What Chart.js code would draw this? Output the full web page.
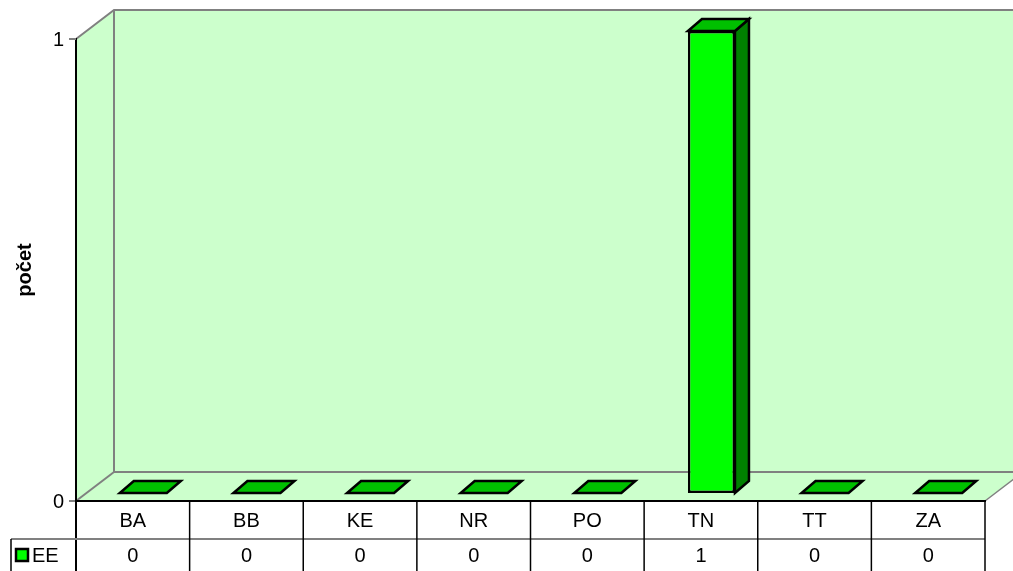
<!DOCTYPE html>
<html>
<head>
<meta charset="utf-8">
<title>počet</title>
<script src="https://cdn.jsdelivr.net/npm/chart.js@4"></script>
<style>
  html, body { margin: 0; padding: 0; background: #fff; }
  canvas { display: block; }
</style>
</head>
<body>
<canvas id="chart" width="1013" height="571"></canvas>
<script>
// ---- Data ----
const categories = ['BA', 'BB', 'KE', 'NR', 'PO', 'TN', 'TT', 'ZA'];
const seriesName = 'EE';
const seriesValues = [0, 0, 0, 0, 0, 1, 0, 0];
const yTicks = [0, 1];
const yTitle = 'počet';

// ---- Look ----
const FONT = '"Liberation Sans", Arial, sans-serif';
const WALL = '#ccffcc';
const GRID = '#808080';
const FRONT = { dx: -10.5, dy: 8 };   // front plane relative to bar plane
const BACK = { dx: 27.5, dy: -21 };   // back wall relative to bar plane
const BAR_DEPTH = { dx: 14, dy: -12 };

function line(ctx, pts, color, w) {
  ctx.beginPath();
  ctx.moveTo(pts[0][0], pts[0][1]);
  for (let i = 1; i < pts.length; i++) ctx.lineTo(pts[i][0], pts[i][1]);
  ctx.strokeStyle = color; ctx.lineWidth = w;
  ctx.stroke();
}
function poly(ctx, pts, fill, stroke, w) {
  ctx.beginPath();
  ctx.moveTo(pts[0][0], pts[0][1]);
  for (let i = 1; i < pts.length; i++) ctx.lineTo(pts[i][0], pts[i][1]);
  ctx.closePath();
  ctx.fillStyle = fill; ctx.fill();
  if (stroke) { ctx.strokeStyle = stroke; ctx.lineWidth = w; ctx.lineJoin = 'miter'; ctx.stroke(); }
}

// ---- 3D walls, bar faces, data table ----
const excel3d = {
  id: 'excel3d',
  beforeDatasetsDraw(chart) {
    const { ctx, chartArea: a, scales: { y } } = chart;
    const top = y.getPixelForValue(yTicks[yTicks.length - 1]);
    const bot = y.getPixelForValue(yTicks[0]);
    const fl = a.left + FRONT.dx, fr = a.right + FRONT.dx;
    const ft = top + FRONT.dy, fb = bot + FRONT.dy;
    const bl = a.left + BACK.dx, br = a.right + BACK.dx;
    const bt = top + BACK.dy, bb = bot + BACK.dy;
    ctx.save();
    // side wall, back wall, floor
    poly(ctx, [[fl, ft], [bl, bt], [bl, bb], [fl, fb]], WALL);
    poly(ctx, [[bl, bt], [br, bt], [br, bb], [bl, bb]], WALL);
    poly(ctx, [[fl, fb], [bl, bb], [br, bb], [fr, fb]], WALL);
    line(ctx, [[fl, ft], [bl, bt], [br, bt]], GRID, 2);
    line(ctx, [[bl, bt], [bl, bb], [br, bb]], GRID, 2);
    line(ctx, [[fl, fb], [bl, bb]], GRID, 2);
    line(ctx, [[fr, fb], [br, bb]], GRID, 1.5);
    // value axis + ticks
    line(ctx, [[fl, ft - 1], [fl, chart.height]], '#000', 2);
    ctx.font = '20px ' + FONT;
    ctx.textAlign = 'right'; ctx.textBaseline = 'middle';
    yTicks.forEach(t => {
      const ty = y.getPixelForValue(t) + FRONT.dy;
      line(ctx, [[fl - 7, ty], [fl, ty]], GRID, 2);
      ctx.fillStyle = '#000';
      ctx.fillText(String(t), fl - 12, ty + 1);
    });
    // axis title
    ctx.save();
    ctx.translate(25, (ft + fb) / 2);
    ctx.rotate(-Math.PI / 2);
    ctx.font = 'bold 20px ' + FONT;
    ctx.textAlign = 'center';
    ctx.fillStyle = '#000';
    ctx.fillText(yTitle, 0, 0);
    ctx.restore();
    ctx.restore();
  },
  afterDatasetsDraw(chart) {
    const { ctx } = chart;
    const meta = chart.getDatasetMeta(0);
    ctx.save();
    meta.data.forEach(bar => {
      const { x, y, base, width } = bar.getProps(['x', 'y', 'base', 'width'], true);
      const l = x - width / 2, r = x + width / 2;
      const dx = BAR_DEPTH.dx, dy = BAR_DEPTH.dy;
      if (base - y > 0.5) {
        poly(ctx, [[r, y], [r + dx, y + dy], [r + dx, base + dy], [r, base]], '#008000', '#000', 2.5);
      }
      poly(ctx, [[l, y], [r, y], [r + dx, y + dy], [l + dx, y + dy]], '#00c000', '#000', 2.5);
    });
    ctx.restore();
  },
  afterDraw(chart) {
    const { ctx, chartArea: a, scales: { x, y } } = chart;
    const n = categories.length;
    const colW = (a.right - a.left) / n;
    const rowTop = y.getPixelForValue(yTicks[0]) + FRONT.dy;
    const rowMid = rowTop + 38;
    const rowBot = chart.height;
    const fl = a.left + FRONT.dx, fr = a.right + FRONT.dx;
    ctx.save();
    line(ctx, [[11, rowMid], [fr, rowMid]], GRID, 2);
    line(ctx, [[fl - 1, rowTop], [fr + 1, rowTop]], '#000', 2);
    line(ctx, [[11, rowMid], [11, rowBot]], '#000', 1.5);
    ctx.font = '20px ' + FONT;
    ctx.textAlign = 'center'; ctx.textBaseline = 'middle';
    categories.forEach((c, i) => {
      const cx = x.getPixelForValue(i) + FRONT.dx;
      const edge = cx + colW / 2;
      line(ctx, [[edge, rowTop], [edge, rowBot]], '#000', 1.5);
      ctx.fillStyle = '#000';
      ctx.fillText(c, cx, (rowTop + rowMid) / 2 + 1);
      ctx.fillText(String(seriesValues[i]), cx, (rowMid + rowBot) / 2 + 1);
    });
    // legend key
    poly(ctx, [[16, 549], [28, 549], [28, 561], [16, 561]], '#00ff00', '#000', 2.5);
    ctx.textAlign = 'left';
    ctx.fillStyle = '#000';
    ctx.fillText(seriesName, 32, (rowMid + rowBot) / 2 + 1);
    ctx.restore();
  }
};

new Chart(document.getElementById('chart'), {
  type: 'bar',
  data: {
    labels: categories,
    datasets: [{
      label: seriesName,
      data: seriesValues,
      backgroundColor: '#00ff00',
      borderColor: '#000',
      borderWidth: 2.5,
      borderSkipped: false,
      categoryPercentage: 1,
      barPercentage: 0.414
    }]
  },
  options: {
    responsive: false,
    animation: false,
    devicePixelRatio: 1,
    layout: { padding: { left: 86.5, right: 17.5, top: 31, bottom: 78 } },
    scales: {
      x: { display: false },
      y: { display: false, min: yTicks[0], max: yTicks[yTicks.length - 1] }
    },
    plugins: { legend: { display: false }, tooltip: { enabled: false } }
  },
  plugins: [excel3d]
});
</script>
</body>
</html>
